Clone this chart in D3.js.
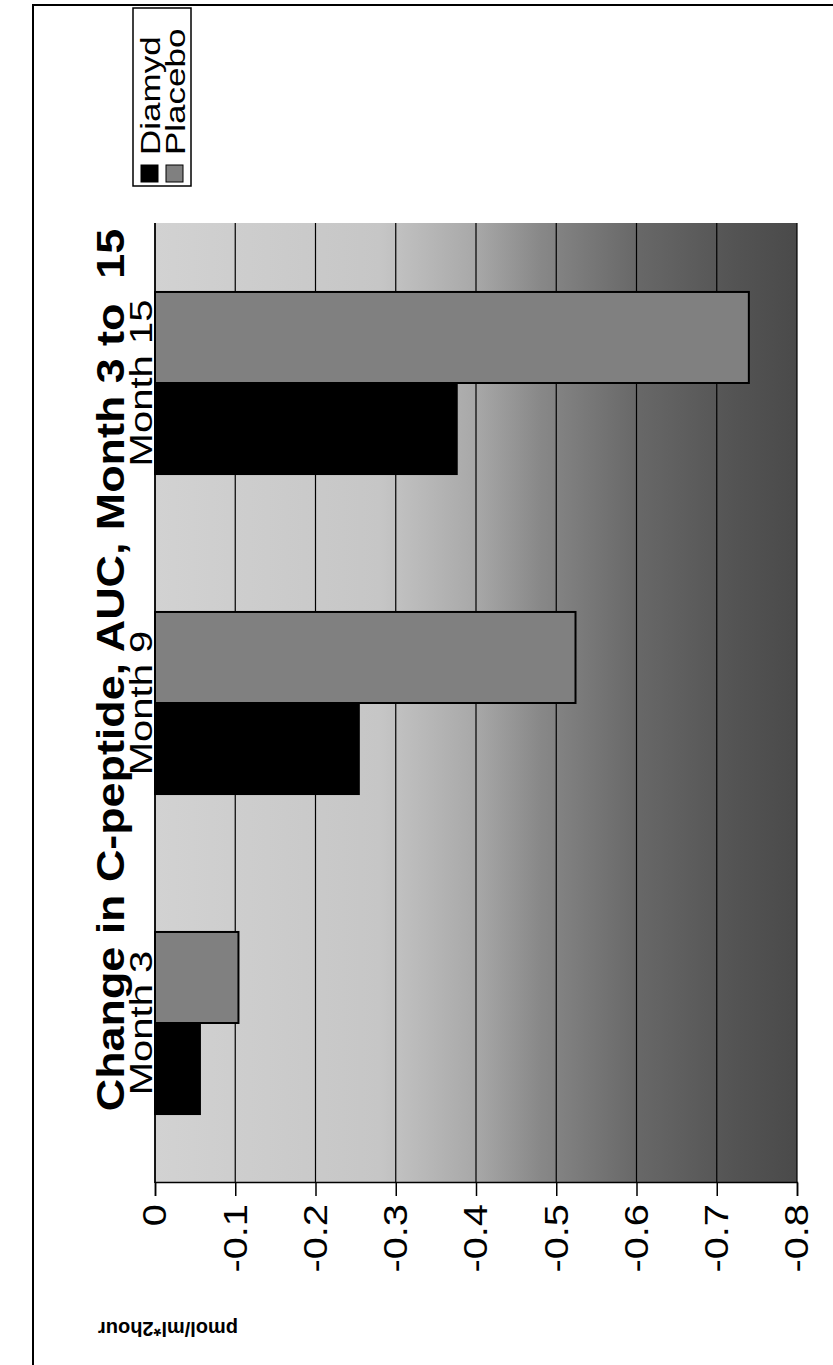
<!DOCTYPE html>
<html>
<head>
<meta charset="utf-8">
<script src="https://cdn.jsdelivr.net/npm/d3@7"></script>
<style>
  html, body { margin: 0; padding: 0; background: #fff; }
  svg { display: block; }
  text { font-family: Arial, "Liberation Sans", Helvetica, sans-serif; }
</style>
</head>
<body>
<div id="chart"></div>
<script>
// Change in C-peptide AUC by visit, two treatment arms
const categories = ["Month 3", "Month 9", "Month 15"];
const seriesNames = ["Diamyd", "Placebo"];
const diamydValues = [-0.056, -0.254, -0.376];
const placeboValues = [-0.104, -0.524, -0.740];
const valueTicks = [0, -0.1, -0.2, -0.3, -0.4, -0.5, -0.6, -0.7, -0.8];
const titleText = "Change in C-peptide, AUC, Month 3 to  15";
const axisTitle = "pmol/ml*2hour";

const pageW = 833, pageH = 1365;
// The chart is laid out landscape, then turned a quarter turn on the page.
const W = pageH, H = pageW;
// type in the landscape layout is slightly wide
const stretch = 1.17;

const svg = d3.select("#chart").append("svg")
  .attr("width", pageW).attr("height", pageH);

const defs = svg.append("defs");
const grad = defs.append("linearGradient")
  .attr("id", "plotShade")
  .attr("gradientUnits", "userSpaceOnUse")
  .attr("x1", 0).attr("x2", 0);

// page frame
svg.append("path")
  .attr("d", `M${33},${pageH} L${33},${5} L${pageW},${5}`)
  .attr("fill", "none").attr("stroke", "#000").attr("stroke-width", 2);

const g = svg.append("g")
  .attr("transform", `translate(0,${W}) rotate(-90)`);

const plot = { left: 182, right: 1142, top: 155, bottom: 797 };

const x0 = d3.scaleBand().domain(categories)
  .range([plot.left, plot.right]).paddingInner(0).paddingOuter(0);
const x1 = d3.scaleBand().domain(seriesNames)
  .range([x0.bandwidth() * 0.2155, x0.bandwidth() * 0.7845]).padding(0);
const y = d3.scaleLinear().domain([0, -0.8]).range([plot.top, plot.bottom]);

grad.attr("y1", y(0)).attr("y2", y(-0.8));
[[0, "#d2d2d2"], [0.35, "#c6c6c6"], [0.5, "#a8a8a8"], [0.6, "#888888"],
 [0.75, "#686868"], [0.9, "#545454"], [1, "#4a4a4a"]]
  .forEach(([o, c]) => grad.append("stop").attr("offset", o).attr("stop-color", c));

g.append("rect")
  .attr("x", plot.left).attr("y", y(0))
  .attr("width", plot.right - plot.left).attr("height", y(-0.8) - y(0))
  .attr("fill", "url(#plotShade)");

// gridlines
g.append("g").selectAll("line").data(valueTicks).join("line")
  .attr("x1", plot.left).attr("x2", plot.right)
  .attr("y1", d => y(d)).attr("y2", d => y(d))
  .attr("stroke", "#000").attr("stroke-width", 1.2);

// bars
const rows = categories.map((c, i) => ({
  cat: c,
  vals: [
    { key: "Diamyd", v: diamydValues[i] },
    { key: "Placebo", v: placeboValues[i] }
  ]
}));
const fills = { Diamyd: "#000000", Placebo: "#808080" };

g.append("g").selectAll("g").data(rows).join("g")
  .attr("transform", d => `translate(${x0(d.cat)},0)`)
  .selectAll("rect").data(d => d.vals).join("rect")
  .attr("x", d => x1(d.key))
  .attr("width", x1.bandwidth())
  .attr("y", y(0))
  .attr("height", d => y(d.v) - y(0))
  .attr("fill", d => fills[d.key])
  .attr("stroke", "#000").attr("stroke-width", 2);

// category axis along the zero line
g.append("line")
  .attr("x1", plot.left).attr("x2", plot.right)
  .attr("y1", y(0)).attr("y2", y(0))
  .attr("stroke", "#000").attr("stroke-width", 1.5);

g.append("g").selectAll("text").data(categories).join("text")
  .attr("transform", d => `translate(${x0(d) + x0.bandwidth() / 2},${plot.top - 3}) scale(1.25,1)`)
  .attr("text-anchor", "middle")
  .attr("font-size", 32)
  .text(d => d);

// value axis
const yAxis = d3.axisLeft(y).tickValues(valueTicks)
  .tickFormat(d => d === 0 ? "0" : String(d))
  .tickSize(13).tickPadding(5);
const ya = g.append("g").attr("transform", `translate(${plot.left},0)`).call(yAxis);
ya.select(".domain").attr("stroke", "#000").attr("stroke-width", 1.5);
ya.selectAll(".tick line").attr("stroke", "#000").attr("stroke-width", 1.5);
ya.selectAll(".tick text")
  .attr("font-size", 34)
  .attr("fill", "#000")
  .attr("transform", `scale(${stretch},1)`)
  .style("font-family", "Arial, 'Liberation Sans', sans-serif");

// axis title
g.append("text")
  .attr("transform", `translate(${36},${168}) rotate(-90)`)
  .attr("text-anchor", "middle")
  .attr("dy", "0.35em")
  .attr("font-size", 20)
  .attr("font-weight", "bold")
  .text(axisTitle);

// chart title
g.append("text")
  .attr("transform", `translate(695,124) scale(1.18,1)`)
  .attr("text-anchor", "middle")
  .attr("font-size", 38)
  .attr("font-weight", "bold")
  .style("white-space", "pre")
  .attr("xml:space", "preserve")
  .text(titleText);

// legend
const lg = g.append("g").attr("transform", `translate(${W - 186},${133})`);
lg.append("rect")
  .attr("x", 0).attr("y", 0).attr("width", 178).attr("height", 58)
  .attr("fill", "#fff").attr("stroke", "#000").attr("stroke-width", 1.5);
const items = lg.selectAll("g").data(seriesNames).join("g")
  .attr("transform", (d, i) => `translate(4,${8 + i * 25})`);
items.append("rect")
  .attr("width", 17).attr("height", 17)
  .attr("fill", d => fills[d]).attr("stroke", "#000");
items.append("text")
  .attr("transform", `translate(27,9) scale(1.25,1)`)
  .attr("dy", "0.36em")
  .attr("font-size", 28)
  .text(d => d);
</script>
</body>
</html>
